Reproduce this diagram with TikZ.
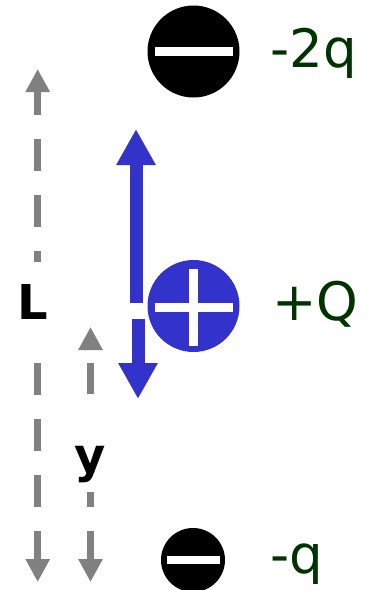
\documentclass[tikz,border=0pt]{standalone}
\usepackage{fontspec}
\setmainfont{DejaVu Sans}
\usetikzlibrary{arrows.meta}
\definecolor{dgreen}{HTML}{003300}
\definecolor{qblue}{HTML}{3333CC}
\definecolor{mgray}{HTML}{808080}
\begin{document}
\begin{tikzpicture}[x=1pt,y=-1pt,
  charge/.style={circle,inner sep=0pt,minimum size=#1},
  bar/.style={white,line width=8.5pt},
  qlabel/.style={anchor=base west,inner sep=0pt,text=dgreen,font=\fontsize{53}{53}\selectfont},
  dimlabel/.style={anchor=base west,inner sep=0pt,font=\bfseries\fontsize{48}{48}\selectfont},
  dimarrow/.style={mgray,line width=7.5pt,-{Triangle[length=23pt,width=23pt]}},
  force/.style={qblue,line width=13pt,-{Triangle[length=36pt,width=37pt]}}]
\useasboundingbox (0,0) rectangle (367,590);
% charges
\node[charge=92pt,fill=black] (top) at (193.5,51.5) {};
\draw[bar] ([xshift=-39pt]top.center) -- ([xshift=39pt]top.center);
\node[charge=92pt,fill=qblue] (mid) at (193.5,306) {};
\draw[bar] ([xshift=-39pt,yshift=-1.5pt]mid.center) -- ([xshift=39pt,yshift=-1.5pt]mid.center);
\draw[bar] ([yshift=37pt]mid.center) -- ([yshift=-40pt]mid.center);
\node[charge=64pt,fill=black] (bot) at (193,560) {};
\draw[bar,line width=8pt] ([xshift=-26.5pt]bot.center) -- ([xshift=26.5pt]bot.center);
% labels
\node[qlabel] (l2q) at (270,67) {-2q};
\node[qlabel] (lQ) at (272,320) {+Q};
\node[qlabel] (lq) at (270,573) {-q};
\node[dimlabel] (L) at (17,319) {L};
\node[dimlabel] (Y) at (74,472) {y};
% arrow end points
\coordinate (Ltop) at (37.7,69);
\coordinate (Lbot) at (37.7,582);
\coordinate (La) at (37.7,262);
\coordinate (Lb) at (37.7,363);
\coordinate (Ytop) at (90.5,327);
\coordinate (Ybot) at (90.5,582);
\coordinate (Ya) at (90.5,394);
\coordinate (Yb) at (90.5,492);
\coordinate (Fa) at (136,303);
\coordinate (Fup) at (136,129);
\coordinate (Fb) at (138,319);
\coordinate (Fdown) at (138,399);
% dimension arrows
\draw[dimarrow,dash pattern=on 11pt off 24pt on 32pt off 24pt on 32pt off 24pt on 60pt] (La) -- (Ltop);
\draw[dimarrow,dash pattern=on 32pt off 24pt] (Lb) -- (Lbot);
\draw[dimarrow,dash pattern=on 31pt off 60pt] (Ya) -- (Ytop);
\draw[dimarrow,dash pattern=on 15pt off 24pt on 60pt] (Yb) -- (Ybot);
% force arrows
\draw[force] (Fa) -- (Fup);
\draw[force] (Fb) -- (Fdown);
\end{tikzpicture}
\end{document}
